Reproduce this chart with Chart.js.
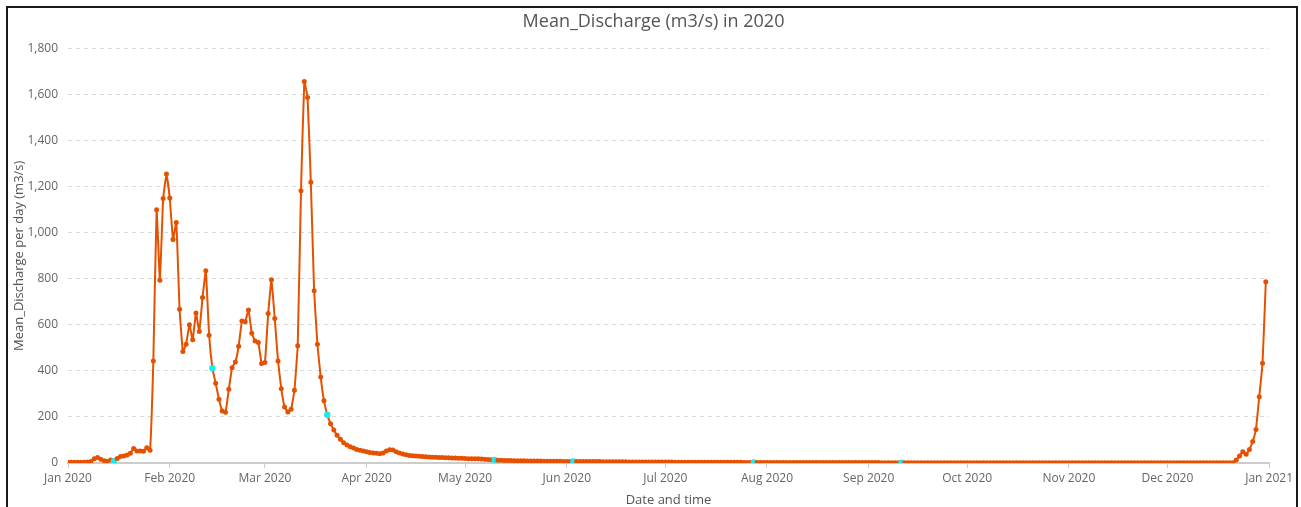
<!DOCTYPE html>
<html>
<head>
<meta charset="utf-8">
<script src="https://cdn.jsdelivr.net/npm/chart.js@4.4.1/dist/chart.umd.min.js"></script>
<style>
  html, body { margin: 0; padding: 0; background: #fff; overflow: hidden; }
  #frame {
    position: absolute; left: 6px; top: 6px;
    width: 1288px; height: 510px;
    border: 2px solid #1a1a1a;
  }
</style>
</head>
<body>
<div id="frame"><canvas id="chartLine" width="1288" height="500"></canvas></div>
<script>
// daily mean discharge, 2020 (day index 0 = 1 Jan)
var jan = [3, 3, 3, 3, 3, 3, 4, 6, 18, 24, 16, 10, 8, 13, 8,
    20, 28, 30, 35, 42, 63, 52, 52, 51, 66, 55, 443, 1100, 794, 1149, 1255];
var feb = [1151, 971, 1045, 668, 484, 516, 600, 535, 652, 571, 719, 835, 555, 412, 346,
    277, 226, 220, 320, 414, 439, 507, 617, 614, 665, 564, 530, 523, 432];
var mar = [436, 649, 796, 628, 443, 322, 243, 221, 234, 316, 509, 1183, 1657, 1588, 1219,
    748, 516, 374, 270, 210, 171, 143, 120, 103, 88, 78, 71, 65, 59, 55, 52];
var apr = [49, 46, 43, 42, 40, 43, 52, 58, 57, 49, 43, 39, 36, 33, 31,
    30, 29, 28, 27, 26, 25, 25, 24, 24, 23, 23, 22, 22, 21, 21];
var may = [20, 19, 19, 18, 18, 17, 16, 15, 14, 13, 12, 12, 11, 11, 11, 10,
    10, 10, 10, 9, 9, 9, 9, 9, 8, 8, 8, 8, 8, 8, 7];
var jun = [7, 7, 7, 7, 6, 6, 6, 6, 6, 6, 6, 5.5, 5.4, 5.3, 5.2,
    5.1, 5, 5, 4.9, 4.8, 4.7, 4.6, 4.5, 4.5, 4.4, 4.3, 4.2, 4.2, 4.1, 4];
var jul = [4, 3.9, 3.9, 3.8, 3.7, 3.6, 3.6, 3.5, 3.4, 3.4, 3.3, 3.3, 3.2, 3.2, 3.1, 3.1,
    3, 3, 3, 2.9, 2.9, 2.8, 2.8, 2.8, 2.7, 2.7, 2.6, 2.6, 2.6, 2.5, 2.5];
var aug = [2.5, 2.4, 2.4, 2.4, 2.3, 2.3, 2.3, 2.2, 2.2, 2.2, 2.2, 2.1, 2.1, 2.1, 2.1, 2,
    2, 2, 2, 1.9, 1.9, 1.9, 1.9, 1.9, 1.8, 1.8, 1.8, 1.8, 1.8, 1.7, 1.7];
var sep = [1.7, 1.7, 1.7, 1.7, 1.6, 1.6, 1.6, 1.6, 1.6, 1.6, 1.5, 1.5, 1.5, 1.5, 1.5,
    1.5, 1.5, 1.4, 1.4, 1.4, 1.4, 1.4, 1.4, 1.4, 1.4, 1.3, 1.3, 1.3, 1.3, 1.3];
var oct = [1.3, 1.3, 1.3, 1.3, 1.2, 1.2, 1.2, 1.2, 1.2, 1.2, 1.2, 1.2, 1.2, 1.2, 1.1, 1.1,
    1.1, 1.1, 1.1, 1.1, 1.1, 1.1, 1.1, 1.1, 1.1, 1, 1, 1, 1, 1, 1];
var nov = [1, 1, 1, 1, 1, 1, 1, 1, 1, 1, 1, 0.9, 0.9, 0.9, 0.9,
    0.9, 0.9, 0.9, 0.9, 0.9, 0.9, 0.9, 0.9, 0.9, 0.9, 0.9, 0.9, 0.9, 0.9, 0.9];
var dec = [0.9, 0.9, 0.9, 0.9, 0.9, 0.9, 0.8, 0.8, 0.8, 0.8, 0.8, 0.8, 0.8, 0.8, 0.8, 0.8,
    0.8, 0.8, 0.8, 0.8, 0.8, 13, 30, 49, 38, 59, 93, 146, 288, 433, 787];

// days drawn in cyan in the original
var highlightDays = [14, 44, 79, 130, 154, 209, 254];

var monthStarts = [0, 31, 60, 91, 121, 152, 182, 213, 244, 274, 305, 335, 366];
var monthLabels = ["Jan 2020", "Feb 2020", "Mar 2020", "Apr 2020", "May 2020", "Jun 2020",
    "Jul 2020", "Aug 2020", "Sep 2020", "Oct 2020", "Nov 2020", "Dec 2020", "Jan 2021"];

var discharge = [].concat(jan, feb, mar, apr, may, jun, jul, aug, sep, oct, nov, dec);
var points = discharge.map(function (v, i) { return { x: i, y: v }; });

var lineColor = '#e65100';
var cyan = '#1ee8f2';

Chart.defaults.font.family = "'Open Sans', 'Noto Sans', sans-serif";
Chart.defaults.color = '#666';

var ourLine = document.getElementById('chartLine');

var lineChart = new Chart(ourLine, {
    type: 'line',
    data: {
        datasets: [
            {
                label: 'Mean_Discharge',
                data: points,
                borderColor: lineColor,
                borderWidth: 2,
                pointRadius: function (ctx) {
                    return highlightDays.indexOf(ctx.dataIndex) >= 0 ? 3.2 : 2.5;
                },
                pointBorderWidth: 0,
                pointBackgroundColor: function (ctx) {
                    return highlightDays.indexOf(ctx.dataIndex) >= 0 ? cyan : lineColor;
                },
                tension: 0.1
            }
        ]
    },
    options: {
        responsive: false,
        animation: false,
        locale: 'en-US',
        layout: {
            padding: { left: 3, right: 0, top: 0, bottom: 0 }
        },
        plugins: {
            legend: { display: false },
            tooltip: { enabled: false },
            title: {
                display: true,
                text: 'Mean_Discharge (m3/s) in 2020',
                color: '#555',
                font: { size: 18, weight: 'normal' },
                padding: { top: 3, bottom: 16 }
            }
        },
        scales: {
            x: {
                type: 'linear',
                min: 0,
                max: 366,
                afterBuildTicks: function (scale) {
                    scale.ticks = monthStarts.map(function (v) { return { value: v }; });
                },
                ticks: {
                    autoSkip: false,
                    maxRotation: 0,
                    padding: 3,
                    color: '#666',
                    font: { size: 12 },
                    callback: function (value) {
                        var k = monthStarts.indexOf(value);
                        return k >= 0 ? monthLabels[k] : '';
                    }
                },
                grid: {
                    drawOnChartArea: false,
                    drawTicks: true,
                    tickLength: 5,
                    color: '#cccccc'
                },
                border: { color: '#cccccc', width: 2 },
                title: {
                    display: true,
                    text: 'Date and time',
                    color: '#555',
                    font: { size: 13 },
                    padding: { top: 4, bottom: 0 }
                }
            },
            y: {
                min: 0,
                max: 1800,
                afterFit: function (scale) { scale.width = 57; },
                ticks: {
                    stepSize: 200,
                    padding: 10,
                    color: '#666',
                    font: { size: 12 }
                },
                grid: {
                    drawTicks: false,
                    color: '#d9d9d9'
                },
                border: { display: false, dash: [4, 4] },
                title: {
                    display: true,
                    text: 'Mean_Discharge per day (m3/s)',
                    color: '#555',
                    font: { size: 13 },
                    padding: 0
                }
            }
        }
    }
});
</script>
</body>
</html>
